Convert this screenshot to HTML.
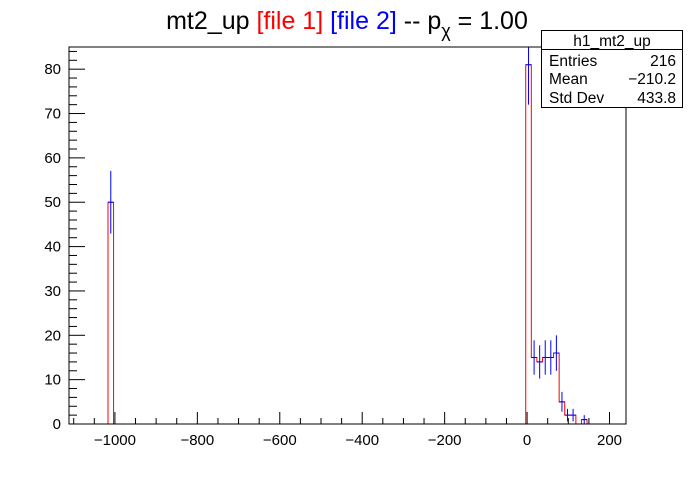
<!DOCTYPE html>
<html><head><meta charset="utf-8"><style>
body{margin:0;background:#fff;}
svg{font-family:"Liberation Sans",Arial,sans-serif;}
</style></head><body>
<svg id="c" width="696" height="472" viewBox="0 0 696 472">
<rect width="696" height="472" fill="#fff"/>
<text x="347" y="29" font-size="25" text-anchor="middle">mt2_up <tspan fill="#ff0000">[file 1]</tspan> <tspan fill="#0000ff">[file 2]</tspan> -- p<tspan font-size="18" dy="8">χ</tspan><tspan dy="-8"> = 1.00</tspan></text>
<g id="plot"></g>
<rect x="69" y="47" width="557" height="377" fill="none" stroke="#000" stroke-width="1"/>
<g font-size="15.5">
<rect x="541.5" y="30.5" width="141" height="77" fill="#fff" stroke="#000"/>
<line x1="541.5" y1="49.5" x2="682.5" y2="49.5" stroke="#000"/>
<text x="612" y="46" text-anchor="middle">h1_mt2_up</text>
<text x="549" y="66">Entries</text><text x="676" y="66" text-anchor="end">216</text>
<text x="549" y="84">Mean</text><text x="676" y="84" text-anchor="end">−210.2</text>
<text x="549" y="103">Std Dev</text><text x="676" y="103" text-anchor="end">433.8</text>
</g>
</svg>
<script>
const binIndex=[7,82,83,84,85,86,87,88,89,90,92];
const file1Values=[50,81,15,14,15,15,16,5,2,2,1];
const file2Values=[50,81,15,14,15,15,16,5,2,2,1];
const xTicks=[-1000,-800,-600,-400,-200,0,200];
const yTicks=[0,10,20,30,40,50,60,70,80];
const xMin=-1111.4,xMax=240,nBins=100,yMax=85;
const L=69,R=626,T=47,B=424;
const X=v=>L+(v-xMin)/(xMax-xMin)*(R-L);
const Y=v=>B-v/yMax*(B-T);
const bw=(xMax-xMin)/nBins;
const g=document.getElementById('plot');
const NS='http://www.w3.org/2000/svg';
function mk(t,a){const e=document.createElementNS(NS,t);for(const k in a)e.setAttribute(k,a[k]);g.appendChild(e);return e;}
for(let v=-1100;v<=240;v+=50){const major=v%200===0;const x=X(v);
 const t=mk('line',{x1:x,x2:x,y1:B,y2:B-(major?12:6),stroke:'#000'});
 
 }
xTicks.forEach(v=>{const t=mk('text',{x:X(v),y:B+21,'font-size':15,'text-anchor':'middle'});t.textContent=(v<0?'−':'')+Math.abs(v);
 
 });
for(let v=0;v<=84;v+=2){const major=v%10===0;const y=Y(v);
 const t=mk('line',{x1:L,x2:L+(major?16:8),y1:y,y2:y,stroke:'#000'});
 
 }
yTicks.forEach(v=>{const t=mk('text',{x:L-8,y:Y(v)+5,'font-size':15,'text-anchor':'end'});t.textContent=v;
 
 });
function hist(vals,color,name){
 let full=new Array(nBins).fill(0);binIndex.forEach((b,i)=>full[b]=vals[i]);
 let d='M'+L+','+B;
 for(let i=0;i<nBins;i++){const x0=X(xMin+i*bw),x1=X(xMin+(i+1)*bw);d+=' L'+x0+','+Y(full[i])+' L'+x1+','+Y(full[i]);}
 d+=' L'+R+','+B;
 const p=mk('path',{d:d,fill:'none',stroke:color,'stroke-width':1});
 
 
 return full;}
hist(file1Values,'#ff0000','file1-histogram');
binIndex.forEach((b,i)=>{const v=file2Values[i];const x0=X(xMin+b*bw),x1=X(xMin+(b+1)*bw),xc=(x0+x1)/2;const e=Math.sqrt(v);
 const h=mk('line',{x1:x0,x2:x1,y1:Y(v),y2:Y(v),stroke:'#0000ff'});
 
 
 const eb=mk('line',{x1:xc,x2:xc,y1:Y(Math.min(v+e,yMax)),y2:Y(v-e),stroke:'#0000ff'});
 
 });
</script>
</body></html>
